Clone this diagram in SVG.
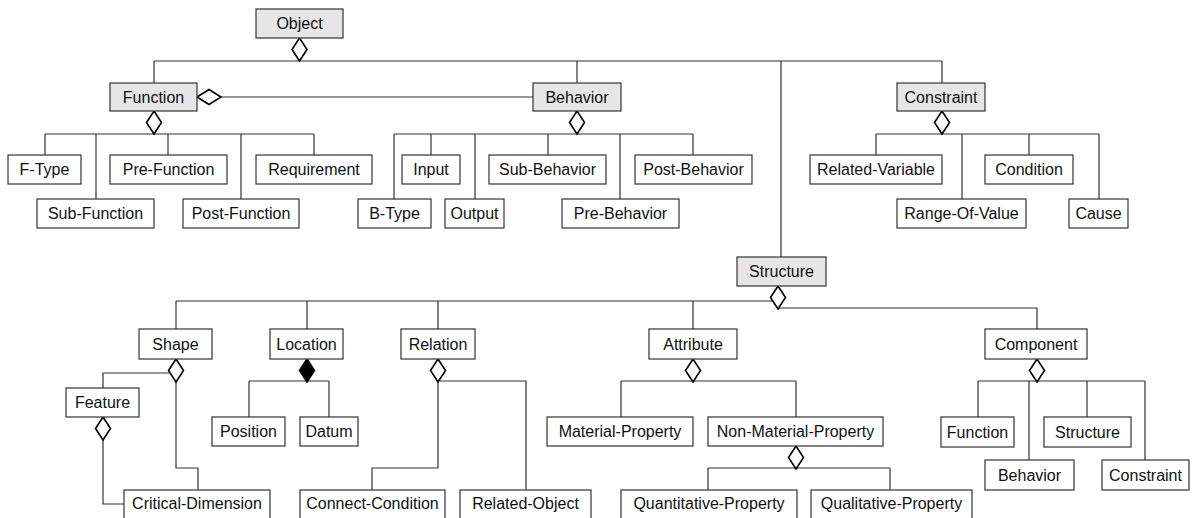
<svg xmlns="http://www.w3.org/2000/svg" xmlns:xlink="http://www.w3.org/1999/xlink" width="1194" height="518" viewBox="0 0 1194 518">
  <style>
    .box { fill: #ffffff; stroke: #333333; stroke-width: 1.2; }
    .top { fill: #e6e6e6; }
    .lbl { font-family: "Liberation Sans", Arial, sans-serif; font-size: 16px; fill: #111111; text-anchor: middle; }
    .wire { fill: none; stroke: #333333; stroke-width: 1.2; }
    .agg { fill: #ffffff; stroke: #000000; stroke-width: 1.6; }
    .comp { fill: #000000; stroke: #000000; stroke-width: 1.6; }
  </style>
  <defs>
    <!-- vertical diamond, anchored at its top vertex -->
    <path id="dia" d="M0,0 L7.5,11.5 L0,23 L-7.5,11.5 Z"/>
  </defs>
  <rect width="1194" height="518" fill="#ffffff"/>

  <g id="connectors">
    <!-- Object -->
    <path class="wire" d="M154,61 H942 M154,61 V83 M577,61 V83 M942,61 V83 M781,61 V257"/>
    <!-- Function -> Behavior association -->
    <path class="wire" d="M221,97 H533"/>
    <!-- Function children -->
    <path class="wire" d="M45,134 H314 M45,134 V155 M96,134 V199 M168,134 V155 M241,134 V199 M314,134 V155"/>
    <!-- Behavior children -->
    <path class="wire" d="M394,134 H693 M394,134 V199 M431,134 V155 M475,134 V199 M548,134 V155 M620,134 V199 M693,134 V155"/>
    <!-- Constraint children -->
    <path class="wire" d="M876,134 H1099 M876,134 V155 M962,134 V199 M1029,134 V155 M1099,134 V199"/>
    <!-- Structure children -->
    <path class="wire" d="M176,301 H773 M176,301 V329 M307,301 V329 M438,301 V329 M693,301 V329 M779,308 H1037 V329"/>
    <!-- Shape -->
    <path class="wire" d="M169,373 H103 V388 M176,382 V468 H198 V490"/>
    <!-- Feature -->
    <path class="wire" d="M103,440 V504 H124"/>
    <!-- Location -->
    <path class="wire" d="M249,381 H329 M249,381 V417 M329,381 V417"/>
    <!-- Relation -->
    <path class="wire" d="M440,381 H526 V490 M438,382 V468 H372 V490"/>
    <!-- Attribute -->
    <path class="wire" d="M621,381 H796 M621,381 V417 M796,381 V417"/>
    <!-- Non-Material-Property -->
    <path class="wire" d="M708,468 H890 M708,468 V490 M890,468 V490"/>
    <!-- Component -->
    <path class="wire" d="M978,381 H1145 M978,381 V417 M1029,381 V460 M1087,381 V417 M1145,381 V460"/>

    <!-- aggregation / composition diamonds -->
    <use xlink:href="#dia" class="agg" x="299.5" y="38"/>
    <path class="agg" d="M197,97 L209,89.5 L221,97 L209,104.5 Z"/>
    <use xlink:href="#dia" class="agg" x="154" y="111"/>
    <use xlink:href="#dia" class="agg" x="577" y="111"/>
    <use xlink:href="#dia" class="agg" x="942" y="111"/>
    <use xlink:href="#dia" class="agg" x="778" y="286"/>
    <use xlink:href="#dia" class="agg" x="176" y="359"/>
    <use xlink:href="#dia" class="comp" x="307" y="359"/>
    <use xlink:href="#dia" class="agg" x="438" y="359"/>
    <use xlink:href="#dia" class="agg" x="693" y="359"/>
    <use xlink:href="#dia" class="agg" x="1037" y="359"/>
    <use xlink:href="#dia" class="agg" x="103" y="417"/>
    <use xlink:href="#dia" class="agg" x="796" y="446"/>
  </g>

  <!-- top level classes -->
  <g id="object"><rect class="box top" x="256" y="9" width="87" height="29"/><text class="lbl" x="299.5" y="29">Object</text></g>
  <g id="function"><rect class="box top" x="110" y="83" width="87" height="28"/><text class="lbl" x="153.5" y="102.5">Function</text></g>
  <g id="behavior"><rect class="box top" x="533" y="83" width="88" height="28"/><text class="lbl" x="577" y="102.5">Behavior</text></g>
  <g id="constraint"><rect class="box top" x="897" y="83" width="88" height="28"/><text class="lbl" x="941" y="102.5">Constraint</text></g>
  <g id="structure"><rect class="box top" x="737" y="257" width="89" height="29"/><text class="lbl" x="781.5" y="277">Structure</text></g>

  <!-- Function parts -->
  <g id="f-type"><rect class="box" x="8" y="155" width="73" height="29"/><text class="lbl" x="44.5" y="175">F-Type</text></g>
  <g id="sub-function"><rect class="box" x="37" y="199" width="117" height="29"/><text class="lbl" x="95.5" y="219">Sub-Function</text></g>
  <g id="pre-function"><rect class="box" x="110" y="155" width="117" height="29"/><text class="lbl" x="168.5" y="175">Pre-Function</text></g>
  <g id="post-function"><rect class="box" x="183" y="199" width="116" height="29"/><text class="lbl" x="241" y="219">Post-Function</text></g>
  <g id="requirement"><rect class="box" x="256" y="155" width="116" height="29"/><text class="lbl" x="314" y="175">Requirement</text></g>

  <!-- Behavior parts -->
  <g id="b-type"><rect class="box" x="358" y="199" width="73" height="29"/><text class="lbl" x="394.5" y="219">B-Type</text></g>
  <g id="input"><rect class="box" x="402" y="155" width="58" height="29"/><text class="lbl" x="431" y="175">Input</text></g>
  <g id="output"><rect class="box" x="445" y="199" width="59" height="29"/><text class="lbl" x="474.5" y="219">Output</text></g>
  <g id="sub-behavior"><rect class="box" x="489" y="155" width="117" height="29"/><text class="lbl" x="547.5" y="175">Sub-Behavior</text></g>
  <g id="pre-behavior"><rect class="box" x="562" y="199" width="117" height="29"/><text class="lbl" x="620.5" y="219">Pre-Behavior</text></g>
  <g id="post-behavior"><rect class="box" x="635" y="155" width="117" height="29"/><text class="lbl" x="693.5" y="175">Post-Behavior</text></g>

  <!-- Constraint parts -->
  <g id="related-variable"><rect class="box" x="810" y="155" width="132" height="29"/><text class="lbl" x="876" y="175">Related-Variable</text></g>
  <g id="range-of-value"><rect class="box" x="897" y="199" width="129" height="29"/><text class="lbl" x="961.5" y="219">Range-Of-Value</text></g>
  <g id="condition"><rect class="box" x="985" y="155" width="88" height="29"/><text class="lbl" x="1029" y="175">Condition</text></g>
  <g id="cause"><rect class="box" x="1069" y="199" width="59" height="29"/><text class="lbl" x="1098.5" y="219">Cause</text></g>

  <!-- Structure parts -->
  <g id="shape"><rect class="box" x="139" y="329" width="73" height="30"/><text class="lbl" x="175.5" y="349.5">Shape</text></g>
  <g id="location"><rect class="box" x="270" y="329" width="73" height="30"/><text class="lbl" x="306.5" y="349.5">Location</text></g>
  <g id="relation"><rect class="box" x="401" y="329" width="74" height="30"/><text class="lbl" x="438" y="349.5">Relation</text></g>
  <g id="attribute"><rect class="box" x="649" y="329" width="88" height="30"/><text class="lbl" x="693" y="349.5">Attribute</text></g>
  <g id="component"><rect class="box" x="985" y="329" width="102" height="30"/><text class="lbl" x="1036" y="349.5">Component</text></g>

  <g id="feature"><rect class="box" x="66" y="388" width="73" height="29"/><text class="lbl" x="102.5" y="408">Feature</text></g>
  <g id="critical-dimension"><rect class="box" x="124" y="490" width="146" height="30"/><text class="lbl" x="197" y="508.5">Critical-Dimension</text></g>

  <g id="position"><rect class="box" x="212" y="417" width="73" height="29"/><text class="lbl" x="248.5" y="437">Position</text></g>
  <g id="datum"><rect class="box" x="300" y="417" width="58" height="29"/><text class="lbl" x="329" y="437">Datum</text></g>

  <g id="connect-condition"><rect class="box" x="300" y="490" width="145" height="30"/><text class="lbl" x="372.5" y="508.5">Connect-Condition</text></g>
  <g id="related-object"><rect class="box" x="460" y="490" width="131" height="30"/><text class="lbl" x="525.5" y="508.5">Related-Object</text></g>

  <g id="material-property"><rect class="box" x="547" y="417" width="146" height="29"/><text class="lbl" x="620" y="437">Material-Property</text></g>
  <g id="non-material-property"><rect class="box" x="708" y="417" width="175" height="29"/><text class="lbl" x="795.5" y="437">Non-Material-Property</text></g>
  <g id="quantitative-property"><rect class="box" x="621" y="490" width="176" height="30"/><text class="lbl" x="709" y="508.5">Quantitative-Property</text></g>
  <g id="qualitative-property"><rect class="box" x="811" y="490" width="161" height="30"/><text class="lbl" x="891.5" y="508.5">Qualitative-Property</text></g>

  <!-- Component parts -->
  <g id="c-function"><rect class="box" x="941" y="417" width="73" height="30"/><text class="lbl" x="977.5" y="437.5">Function</text></g>
  <g id="c-behavior"><rect class="box" x="985" y="460" width="89" height="30"/><text class="lbl" x="1029.5" y="480.5">Behavior</text></g>
  <g id="c-structure"><rect class="box" x="1044" y="417" width="87" height="30"/><text class="lbl" x="1087.5" y="437.5">Structure</text></g>
  <g id="c-constraint"><rect class="box" x="1102" y="460" width="87" height="30"/><text class="lbl" x="1145.5" y="480.5">Constraint</text></g>
</svg>
